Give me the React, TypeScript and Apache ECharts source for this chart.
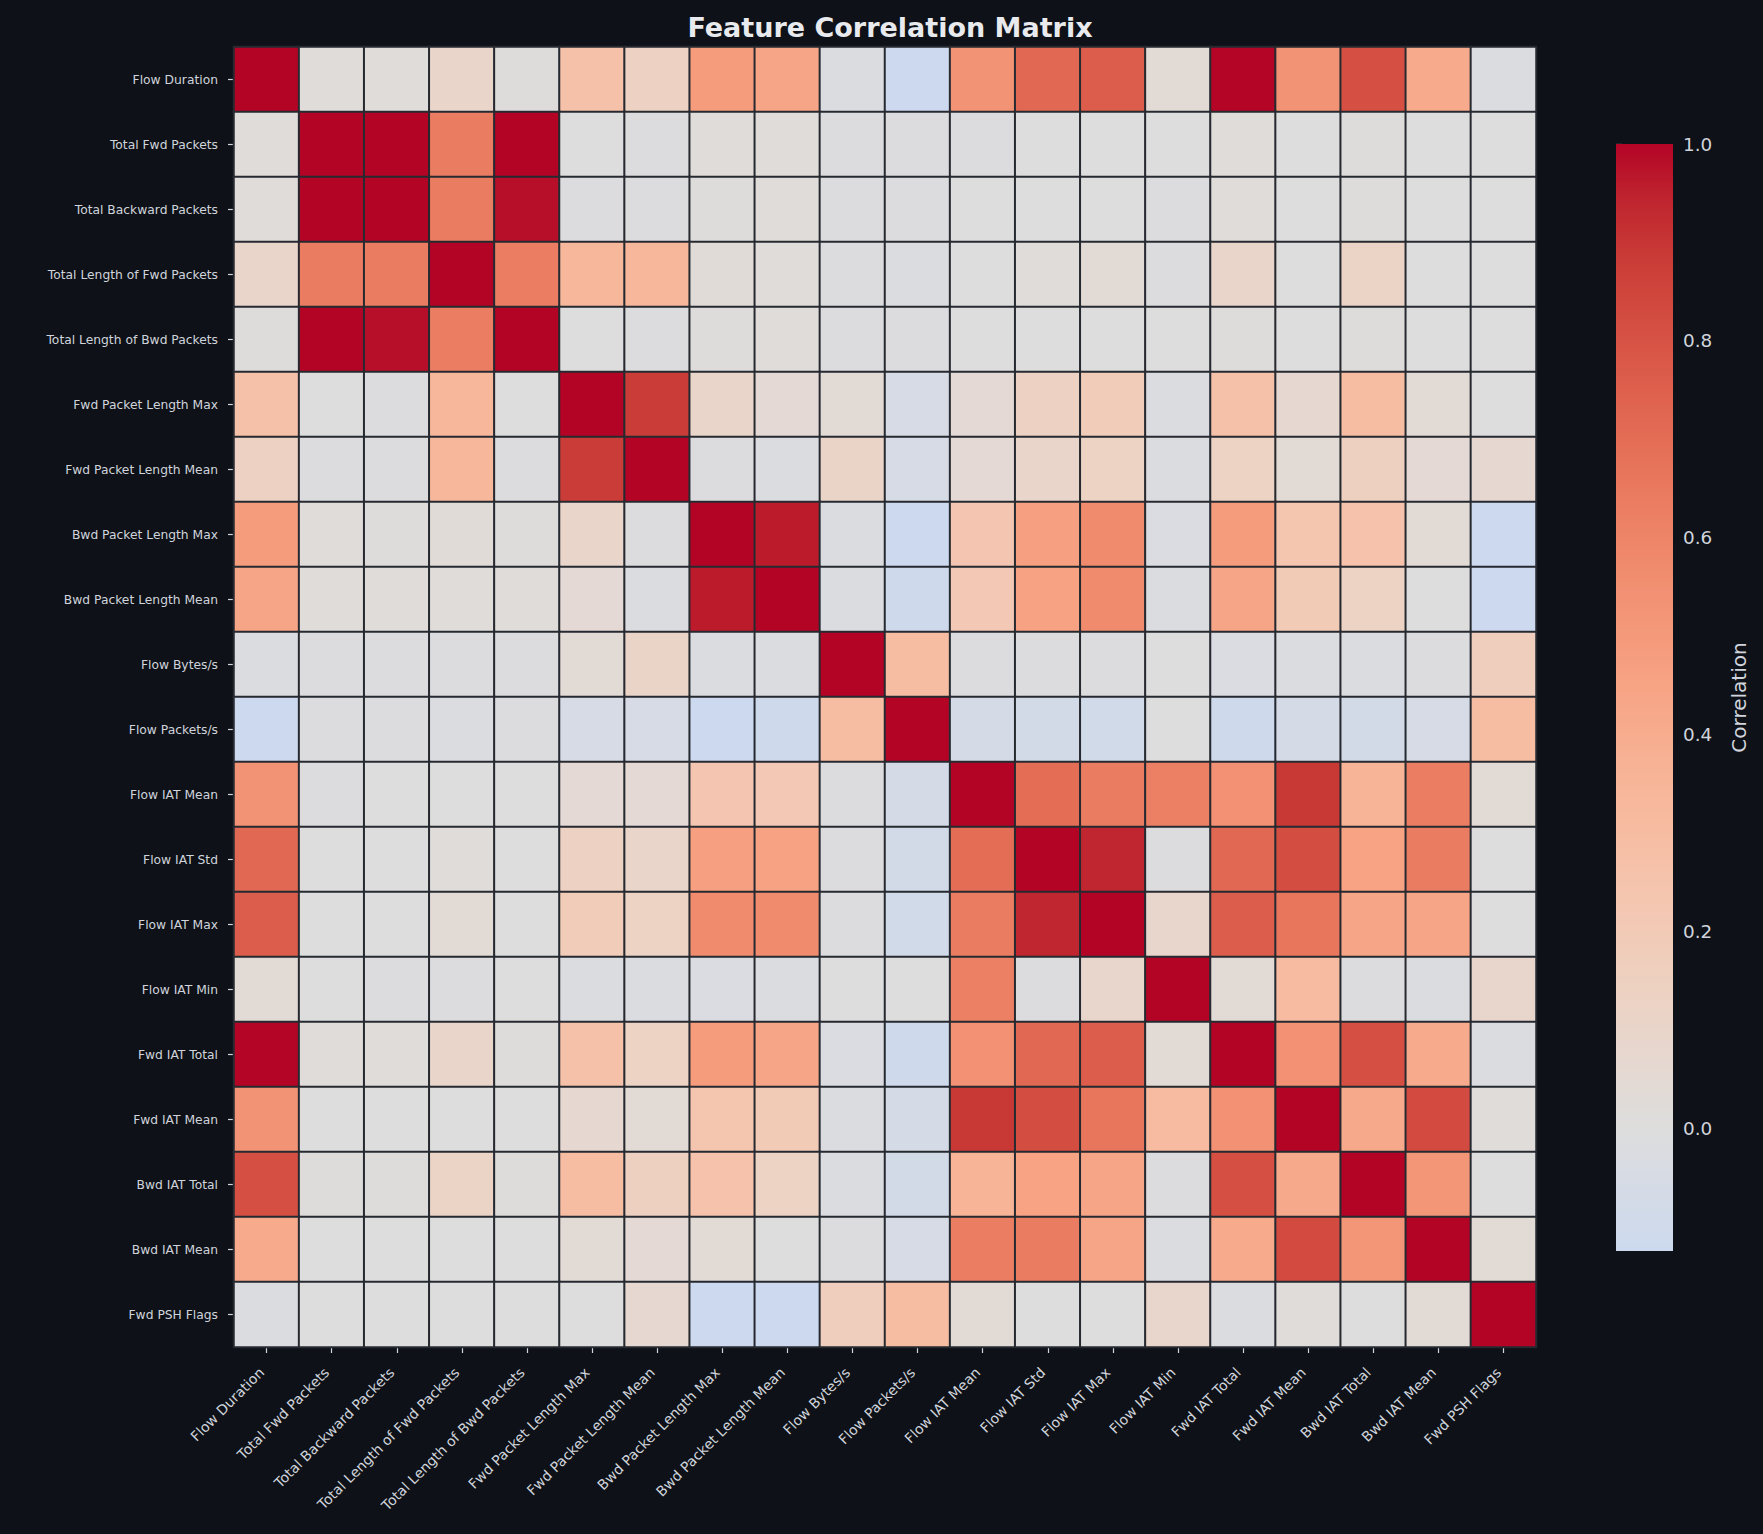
import React, { useEffect, useRef } from "react";
import * as echarts from "echarts";

// Feature names (row/column order of the matrix)
const features: string[] = [
  "Flow Duration",
  "Total Fwd Packets",
  "Total Backward Packets",
  "Total Length of Fwd Packets",
  "Total Length of Bwd Packets",
  "Fwd Packet Length Max",
  "Fwd Packet Length Mean",
  "Bwd Packet Length Max",
  "Bwd Packet Length Mean",
  "Flow Bytes/s",
  "Flow Packets/s",
  "Flow IAT Mean",
  "Flow IAT Std",
  "Flow IAT Max",
  "Flow IAT Min",
  "Fwd IAT Total",
  "Fwd IAT Mean",
  "Bwd IAT Total",
  "Bwd IAT Mean",
  "Fwd PSH Flags",
];

// Pairwise correlation, one row per feature
const rowFlowDuration = [1.0, 0.02, 0.02, 0.1, 0.01, 0.27, 0.14, 0.49, 0.44, -0.02, -0.12, 0.53, 0.72, 0.76, 0.04, 0.998, 0.53, 0.81, 0.41, -0.02];
const rowTotalFwdPackets = [0.02, 1.0, 1.0, 0.64, 1.0, 0.0, -0.01, 0.02, 0.02, -0.01, -0.01, -0.01, 0.0, 0.0, 0.0, 0.02, 0.0, 0.01, 0.0, 0.0];
const rowTotalBackwardPackets = [0.02, 1.0, 1.0, 0.64, 0.98, -0.01, -0.01, 0.01, 0.02, -0.01, -0.01, 0.0, 0.0, 0.0, -0.01, 0.02, 0.0, 0.01, 0.0, 0.0];
const rowTotalLenFwd = [0.1, 0.64, 0.64, 1.0, 0.63, 0.34, 0.34, 0.03, 0.02, -0.01, -0.02, 0.0, 0.02, 0.04, -0.01, 0.1, 0.0, 0.12, 0.0, 0.0];
const rowTotalLenBwd = [0.01, 1.0, 0.98, 0.63, 1.0, 0.0, -0.01, 0.01, 0.02, -0.01, -0.01, 0.0, 0.0, 0.0, 0.0, 0.01, 0.0, 0.01, 0.0, 0.0];
const rowFwdPktLenMax = [0.27, 0.0, -0.01, 0.34, 0.0, 1.0, 0.88, 0.1, 0.05, 0.04, -0.05, 0.05, 0.14, 0.19, -0.02, 0.27, 0.07, 0.3, 0.04, 0.0];
const rowFwdPktLenMean = [0.14, -0.01, -0.01, 0.34, -0.01, 0.88, 1.0, -0.01, -0.02, 0.11, -0.05, 0.05, 0.1, 0.13, -0.02, 0.13, 0.04, 0.15, 0.05, 0.07];
const rowBwdPktLenMax = [0.49, 0.02, 0.01, 0.03, 0.01, 0.1, -0.01, 1.0, 0.96, -0.02, -0.124, 0.23, 0.47, 0.57, -0.03, 0.49, 0.24, 0.26, 0.04, -0.12];
const rowBwdPktLenMean = [0.44, 0.02, 0.02, 0.02, 0.02, 0.05, -0.02, 0.96, 1.0, -0.02, -0.11, 0.21, 0.46, 0.57, -0.02, 0.44, 0.2, 0.13, 0.0, -0.12];
const rowFlowBytes = [-0.02, -0.01, -0.01, -0.01, -0.01, 0.04, 0.11, -0.02, -0.02, 1.0, 0.3, -0.01, -0.01, -0.01, 0.0, -0.03, -0.02, -0.02, -0.01, 0.17];
const rowFlowPackets = [-0.12, -0.01, -0.01, -0.02, -0.01, -0.05, -0.05, -0.124, -0.11, 0.3, 1.0, -0.06, -0.08, -0.09, 0.0, -0.11, -0.06, -0.08, -0.05, 0.3];
const rowFlowIatMean = [0.53, -0.01, 0.0, 0.0, 0.0, 0.05, 0.05, 0.23, 0.21, -0.01, -0.06, 1.0, 0.7, 0.64, 0.62, 0.54, 0.89, 0.36, 0.63, 0.04];
const rowFlowIatStd = [0.72, 0.0, 0.0, 0.02, 0.0, 0.14, 0.1, 0.47, 0.46, -0.01, -0.08, 0.7, 1.0, 0.94, -0.01, 0.72, 0.82, 0.45, 0.64, 0.0];
const rowFlowIatMax = [0.76, 0.0, 0.0, 0.04, 0.0, 0.19, 0.13, 0.57, 0.57, -0.01, -0.09, 0.64, 0.94, 1.0, 0.09, 0.76, 0.66, 0.44, 0.44, 0.0];
const rowFlowIatMin = [0.04, 0.0, -0.01, -0.01, 0.0, -0.02, -0.02, -0.03, -0.02, 0.0, 0.0, 0.62, -0.01, 0.09, 1.0, 0.04, 0.31, -0.01, -0.02, 0.09];
const rowFwdIatTotal = [0.998, 0.02, 0.02, 0.1, 0.01, 0.27, 0.13, 0.49, 0.44, -0.03, -0.11, 0.54, 0.72, 0.76, 0.04, 1.0, 0.54, 0.81, 0.41, -0.02];
const rowFwdIatMean = [0.53, 0.0, 0.0, 0.0, 0.0, 0.07, 0.04, 0.24, 0.2, -0.02, -0.06, 0.89, 0.82, 0.66, 0.31, 0.54, 1.0, 0.42, 0.83, 0.02];
const rowBwdIatTotal = [0.81, 0.01, 0.01, 0.12, 0.01, 0.3, 0.15, 0.26, 0.13, -0.02, -0.08, 0.36, 0.45, 0.44, -0.01, 0.81, 0.42, 1.0, 0.52, 0.0];
const rowBwdIatMean = [0.41, 0.0, 0.0, 0.0, 0.0, 0.04, 0.05, 0.04, 0.0, -0.01, -0.05, 0.63, 0.64, 0.44, -0.02, 0.41, 0.83, 0.52, 1.0, 0.04];
const rowFwdPshFlags = [-0.02, 0.0, 0.0, 0.0, 0.0, 0.0, 0.07, -0.12, -0.12, 0.17, 0.3, 0.04, 0.0, 0.0, 0.09, -0.02, 0.02, 0.0, 0.04, 1.0];

const corrMatrix: number[][] = [
  rowFlowDuration,
  rowTotalFwdPackets,
  rowTotalBackwardPackets,
  rowTotalLenFwd,
  rowTotalLenBwd,
  rowFwdPktLenMax,
  rowFwdPktLenMean,
  rowBwdPktLenMax,
  rowBwdPktLenMean,
  rowFlowBytes,
  rowFlowPackets,
  rowFlowIatMean,
  rowFlowIatStd,
  rowFlowIatMax,
  rowFlowIatMin,
  rowFwdIatTotal,
  rowFwdIatMean,
  rowBwdIatTotal,
  rowBwdIatMean,
  rowFwdPshFlags,
];

// Colour bar tick values
const colorbarTicks = [0, 0.2, 0.4, 0.6, 0.8, 1.0];

// Diverging "coolwarm" palette control points (33 evenly spaced stops)
const COOLWARM: number[][] = [
  [59, 76, 192], [68, 90, 204], [77, 104, 215], [87, 117, 225], [98, 130, 234],
  [108, 142, 241], [119, 154, 247], [130, 165, 251], [141, 176, 254], [152, 185, 255],
  [163, 194, 255], [174, 201, 253], [184, 208, 249], [194, 213, 244], [204, 217, 238],
  [213, 219, 230], [221, 221, 221], [229, 216, 209], [236, 211, 197], [241, 204, 185],
  [245, 196, 173], [247, 187, 160], [247, 177, 148], [247, 166, 135], [244, 154, 123],
  [241, 141, 111], [236, 127, 99], [229, 112, 88], [222, 96, 77], [213, 80, 66],
  [203, 62, 56], [192, 40, 47], [180, 4, 38],
];

function coolwarm(t: number): string {
  const clamped = Math.max(0, Math.min(1, t));
  const pos = clamped * (COOLWARM.length - 1);
  const i = Math.min(Math.floor(pos), COOLWARM.length - 2);
  const f = pos - i;
  const a = COOLWARM[i];
  const b = COOLWARM[i + 1];
  const hex = (k: number) =>
    Math.round(a[k] + (b[k] - a[k]) * f)
      .toString(16)
      .padStart(2, "0");
  return "#" + hex(0) + hex(1) + hex(2);
}

const BG = "#0e1117";
const TEXT = "#d0d4dc";
const FONT = "DejaVu Sans";

export default function App() {
  const ref = useRef<HTMLDivElement>(null);

  useEffect(() => {
    document.body.style.margin = "0";
    document.body.style.background = BG;
    if (!ref.current) return;
    const chart = echarts.init(ref.current, undefined, { renderer: "svg" });

    const n = features.length;
    const heatData: number[][] = [];
    let vmin = Infinity;
    for (let r = 0; r < n; r++) {
      for (let c = 0; c < n; c++) {
        const v = corrMatrix[r][c];
        vmin = Math.min(vmin, v);
        heatData.push([c, r, v]);
      }
    }
    const vmax = 1;
    // palette centred on zero: value v maps to coolwarm(0.5 + v / 2)
    const vrange = Math.max(vmax, -vmin);
    const steps = 64;
    const cmap: string[] = [];
    for (let k = 0; k < steps; k++) {
      const v = vmin + ((vmax - vmin) * k) / (steps - 1);
      cmap.push(coolwarm(0.5 + v / (2 * vrange)));
    }
    const gradientStops = cmap.map((color, k) => ({ offset: k / (steps - 1), color }));

    const heatLeft = 234;
    const heatWidth = 1302;

    const option: any = {
      animation: false,
      backgroundColor: BG,
      textStyle: { fontFamily: FONT },
      title: {
        text: "Feature Correlation Matrix",
        left: heatLeft + heatWidth / 2,
        textAlign: "center",
        top: 9,
        textStyle: { color: "#e8eaed", fontSize: 27, fontWeight: "bold", fontFamily: FONT },
      },
      grid: [
        { left: heatLeft, top: 47, width: heatWidth, height: 1300 },
        { left: 1616, top: 144, width: 57, height: 1107 },
      ],
      xAxis: [
        {
          type: "category",
          gridIndex: 0,
          data: features,
          axisLine: { show: false },
          axisTick: { show: true, alignWithLabel: true, length: 6, lineStyle: { color: TEXT, width: 1.2 } },
          axisLabel: {
            rotate: 45,
            interval: 0,
            fontSize: 14,
            color: TEXT,
            margin: 18,
            padding: [0, 7, 0, 0],
            fontFamily: FONT,
          },
          splitLine: { show: false },
          splitArea: { show: false },
        },
        { type: "value", gridIndex: 1, min: 0, max: 1, show: false },
      ],
      yAxis: [
        {
          type: "category",
          gridIndex: 0,
          data: features,
          inverse: true,
          axisLine: { show: false },
          axisTick: { show: true, alignWithLabel: true, length: 6, lineStyle: { color: TEXT, width: 1.2 } },
          axisLabel: { interval: 0, fontSize: 12.3, color: TEXT, margin: 16, fontFamily: FONT },
          splitLine: { show: false },
          splitArea: { show: false },
        },
        {
          type: "value",
          gridIndex: 1,
          position: "right",
          min: vmin,
          max: vmax,
          axisLine: { show: false },
          splitLine: { show: false },
          axisTick: { show: true, length: 6, customValues: colorbarTicks, lineStyle: { color: TEXT, width: 1.2 } },
          axisLabel: {
            customValues: colorbarTicks,
            formatter: (v: number) => v.toFixed(1),
            fontSize: 18.4,
            color: TEXT,
            margin: 10,
            fontFamily: FONT,
          },
          name: "Correlation",
          nameLocation: "middle",
          nameRotate: 90,
          nameGap: 56,
          nameTextStyle: { color: TEXT, fontSize: 20, fontFamily: FONT },
        },
      ],
      visualMap: {
        show: false,
        type: "continuous",
        seriesIndex: 0,
        min: vmin,
        max: vmax,
        inRange: { color: cmap },
      },
      series: [
        {
          type: "heatmap",
          xAxisIndex: 0,
          yAxisIndex: 0,
          data: heatData,
          itemStyle: { borderColor: "#262a30", borderWidth: 2 },
          emphasis: { disabled: true },
        },
        {
          type: "custom",
          xAxisIndex: 1,
          yAxisIndex: 1,
          silent: true,
          data: [[0, vmax]],
          renderItem: (params: any, api: any) => {
            const cs = params.coordSys;
            const top = api.coord([0, vmax]);
            const bottom = api.coord([0, vmin]);
            return {
              type: "rect",
              shape: { x: cs.x, y: top[1], width: cs.width, height: bottom[1] - top[1] },
              style: { fill: new echarts.graphic.LinearGradient(0, 1, 0, 0, gradientStops) },
            };
          },
        },
      ],
    };

    chart.setOption(option);
    return () => chart.dispose();
  }, []);

  return (
    <div
      ref={ref}
      style={{ position: "absolute", left: 0, top: 0, width: 1763, height: 1534, background: BG }}
    />
  );
}
